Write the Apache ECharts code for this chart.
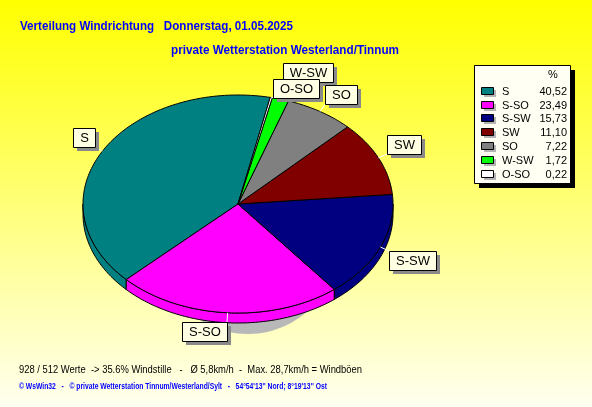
<!DOCTYPE html>
<html><head><meta charset="utf-8">
<script src="https://cdn.jsdelivr.net/npm/echarts@6/dist/echarts.min.js"></script>
<style>
html,body{margin:0;padding:0;}
#c{width:592px;height:407px;background:linear-gradient(to bottom,#ffff00 0%,#fffff0 100%);}
</style>
</head><body><div id="c"></div>
<script>
// ---------- data ----------
const categories = ['S', 'S-SO', 'S-SW', 'SW', 'SO', 'W-SW', 'O-SO'];
const values = [40.52, 23.49, 15.73, 11.10, 7.22, 1.72, 0.22];
const colors = ['#008080', '#ff00ff', '#000080', '#800000', '#808080', '#00ff00', '#ffffff'];
const legendHeader = '%';
const titleText = 'Verteilung Windrichtung   Donnerstag, 01.05.2025';
const subtitleText = 'private Wetterstation Westerland/Tinnum';
const footerText = '928 / 512 Werte  -> 35.6% Windstille   -   \u00d8 5,8km/h  -  Max. 28,7km/h = Windb\u00f6en';
const creditText = '\u00a9 WsWin32   -   \u00a9 private Wetterstation Tinnum/Westerland/Sylt   -   54\u00b054\'13\'\' Nord; 8\u00b019\'13\'\' Ost';

// ---------- layout ----------
const PIE = { cx: 238, cy: 204, rx: 155, ry: 109, depth: 10, startDeg: 78 };
const SANS = "'Liberation Sans',Arial,sans-serif";
const LABEL_FONT = '13px ' + SANS;

const rad = d => d * Math.PI / 180;
function ePt(deg, dy) {
  return [PIE.cx + PIE.rx * Math.cos(rad(deg)), PIE.cy - PIE.ry * Math.sin(rad(deg)) + (dy || 0)];
}
function arc(a1, a2, dy) {
  const n = Math.max(2, Math.ceil(Math.abs(a2 - a1)));
  const pts = [];
  for (let k = 0; k <= n; k++) pts.push(ePt(a1 + (a2 - a1) * k / n, dy));
  return pts;
}

const total = values.reduce((a, b) => a + b, 0);
const slices = [];
let acc = 0;
values.forEach((v, i) => {
  const a1 = PIE.startDeg + acc / total * 360;
  acc += v;
  const a2 = PIE.startDeg + acc / total * 360;
  slices.push({ a1, a2 });
});

// measure text
const mctx = document.createElement('canvas').getContext('2d');
function textW(str, font) { mctx.font = font; return mctx.measureText(str).width; }

// label boxes
const boxes = new Array(values.length);
const placed = [];
for (let i = values.length - 1; i >= 0; i--) {
  const s = slices[i];
  const mid = (s.a1 + s.a2) / 2;
  const c = Math.cos(rad(mid)), sn = Math.sin(rad(mid));
  const edge = ePt(mid, 0);
  const ax = edge[0] + 9 * c, ay = edge[1] - 9 * sn;
  const w = Math.round(textW(categories[i], LABEL_FONT)) + 13;
  const h = 19;
  let x = c >= 0 ? ax : ax - w;
  let y;
  if (sn > 0 && Math.abs(c) < 0.4) y = ay - h / 2;
  else y = sn > 0 ? ay - h : ay;
  let moved = true, guard = 0;
  while (moved && guard++ < 20) {
    moved = false;
    for (const b of placed) {
      if (x < b.x + b.w && x + w > b.x && y < b.y + b.h && y + h > b.y) {
        if (sn > 0) y = b.y + 3 - h; else y = b.y + b.h - 3;
        moved = true;
      }
    }
  }
  x = Math.round(x); y = Math.round(y);
  const px = Math.min(Math.max(edge[0], x), x + w);
  const py = Math.min(Math.max(edge[1], y), y + h);
  boxes[i] = { x, y, w, h, edge, end: [px, py] };
  placed.push(boxes[i]);
}

function renderItem(params, api) {
  const i = params.dataIndex;
  const s = slices[i];
  const children = [];
  if (i === 0) {
    children.push({
      type: 'ellipse', z2: 0,
      shape: { cx: PIE.cx + 10, cy: PIE.cy + 15, rx: 100, ry: 115 },
      style: { fill: '#b8b8b8' }
    });
  }
  // front side (extrusion)
  [[180, 360], [540, 720]].forEach(r => {
    const a = Math.max(s.a1, r[0]), b = Math.min(s.a2, r[1]);
    if (b > a) {
      const pts = arc(a, b, 0).concat(arc(a, b, PIE.depth).reverse());
      children.push({
        type: 'polygon', z2: 1,
        shape: { points: pts },
        style: { fill: api.visual('color'), stroke: '#000', lineWidth: 1 }
      });
    }
  });
  // top
  children.push({
    type: 'polygon', z2: 2,
    shape: { points: [[PIE.cx, PIE.cy]].concat(arc(s.a1, s.a2, 0)) },
    style: { fill: api.visual('color'), stroke: '#000', lineWidth: 1, lineJoin: 'round' }
  });
  // label
  const b = boxes[i];
  children.push({
    type: 'line', z2: 3,
    shape: { x1: b.edge[0], y1: b.edge[1], x2: b.end[0], y2: b.end[1] },
    style: { stroke: '#ffffff', lineWidth: 1 }
  });
  children.push({
    type: 'rect', z2: 4,
    shape: { x: b.x + 4, y: b.y + 4, width: b.w, height: b.h },
    style: { fill: '#8a8a8a' }
  });
  children.push({
    type: 'rect', z2: 5,
    shape: { x: b.x + 0.5, y: b.y + 0.5, width: b.w, height: b.h },
    style: { fill: '#ffffe4', stroke: '#000', lineWidth: 1 }
  });
  children.push({
    type: 'text', z2: 6,
    style: {
      text: categories[i], x: b.x + b.w / 2 + 0.5, y: b.y + b.h / 2 + 1,
      align: 'center', verticalAlign: 'middle', font: LABEL_FONT, fill: '#000'
    }
  });
  return { type: 'group', children };
}

// legend graphics
const LEG = { x: 474, y: 65, w: 96, h: 118, row0: 90.7, rowStep: 13.8 };
const graphics = [];
graphics.push({ type: 'rect', shape: { x: LEG.x + 5, y: LEG.y + 5, width: LEG.w, height: LEG.h }, style: { fill: '#000' }, z: 10 });
graphics.push({ type: 'rect', shape: { x: LEG.x + 0.5, y: LEG.y + 0.5, width: LEG.w, height: LEG.h }, style: { fill: '#fffff4', stroke: '#000', lineWidth: 1 }, z: 10 });
graphics.push({ type: 'text', x: 553, y: 75, style: { text: legendHeader, align: 'center', verticalAlign: 'middle', font: '11px ' + SANS, fill: '#000' }, z: 11 });
categories.forEach((name, i) => {
  const yc = Math.round(LEG.row0 + i * LEG.rowStep);
  graphics.push({ type: 'rect', shape: { x: 484, y: yc - 1, width: 12, height: 7 }, style: { fill: '#b4b4b4' }, z: 11 });
  graphics.push({ type: 'rect', shape: { x: 481.5, y: yc - 3.5, width: 12, height: 7 }, style: { fill: colors[i], stroke: '#000', lineWidth: 1 }, z: 12 });
  graphics.push({ type: 'text', x: 502, y: yc + 0.5, style: { text: name, align: 'left', verticalAlign: 'middle', font: '11px ' + SANS, fill: '#000' }, z: 12 });
  graphics.push({ type: 'text', x: 567, y: yc + 0.5, style: { text: values[i].toFixed(2).replace('.', ','), align: 'right', verticalAlign: 'middle', font: '11px ' + SANS, fill: '#000' }, z: 12 });
});
// titles and footers (condensed horizontally like the original narrow font)
function narrowText(str, x, y, font, color, width) {
  const sx = width / textW(str, font);
  return { type: 'text', x, y, scaleX: sx, style: { text: str, x: 0, y: 0, verticalAlign: 'middle', font, fill: color }, z: 12 };
}
graphics.push(narrowText(titleText, 20, 26, 'bold 13px ' + SANS, '#0000ff', 273));
graphics.push(narrowText(subtitleText, 171, 50, 'bold 13px ' + SANS, '#0000ff', 228));
graphics.push(narrowText(footerText, 19, 369.5, '11.5px ' + SANS, '#000', 343));
graphics.push(narrowText(creditText, 19, 386.5, 'bold 9px ' + SANS, '#0000ff', 308));

const chart = echarts.init(document.getElementById('c'), null, { renderer: 'canvas' });
chart.setOption({
  backgroundColor: 'transparent',
  animation: false,
  series: [{
    type: 'custom',
    coordinateSystem: 'none',
    silent: true,
    renderItem,
    data: values.map((v, i) => ({ name: categories[i], value: [i, v], itemStyle: { color: colors[i] } }))
  }],
  graphic: graphics
});
</script>
</body></html>
